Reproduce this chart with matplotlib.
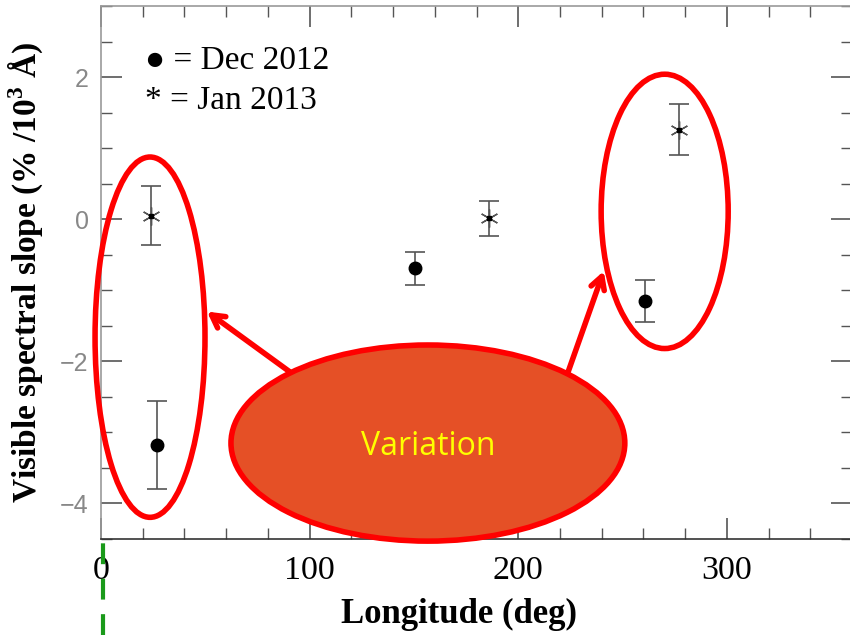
import matplotlib
matplotlib.use("Agg")
import matplotlib.pyplot as plt
from matplotlib.patches import Ellipse
from matplotlib.lines import Line2D
from matplotlib.ticker import MultipleLocator

# Dec 2012 observations (filled circles)
dec_lon = [26.7, 150.5, 261.0]
dec_slope = [-3.18, -0.69, -1.15]
dec_err = [0.62, 0.23, 0.29]

# Jan 2013 observations (asterisks)
jan_lon = [23.8, 186.0, 277.0]
jan_slope = [0.05, 0.01, 1.26]
jan_err = [0.42, 0.24, 0.36]

x_ticks = [0, 100, 200, 300]
y_ticks = [-4, -2, 0, 2]

serif = ["Liberation Serif", "DejaVu Serif"]
plt.rcParams["mathtext.fontset"] = "custom"
plt.rcParams["mathtext.rm"] = "Liberation Serif:bold"

fig = plt.figure(figsize=(8.5, 6.35), dpi=100)
W, H = 850, 635
ax = fig.add_axes([101 / W, (H - 539) / H, 751 / W, (539 - 6) / H])
ax.set_xlim(0, 360)
ax.set_ylim(-4.5, 3.0)

ax.errorbar(dec_lon, dec_slope, yerr=dec_err, fmt="o", color="black",
            ms=9, ecolor="#555555", elinewidth=1.2, capsize=7, capthick=1.2, zorder=3)
ax.errorbar(jan_lon, jan_slope, yerr=jan_err, fmt="none",
            ecolor="#555555", elinewidth=1.2, capsize=7, capthick=1.2, zorder=3)
ax.plot(jan_lon, jan_slope, linestyle="none", marker=(6, 2, 0), ms=13,
        mec="#555555", mew=1.0, zorder=4)
ax.plot(jan_lon, jan_slope, linestyle="none", marker="s", ms=2.5,
        color="black", zorder=5)

# ticks and spines
ax.set_xticks(x_ticks)
ax.set_yticks(y_ticks)
ax.xaxis.set_minor_locator(MultipleLocator(20))
ax.yaxis.set_minor_locator(MultipleLocator(0.5))
ax.tick_params(which="both", direction="in", top=True, right=True, color="#555555")
ax.tick_params(which="major", length=15, width=1.2)
ax.tick_params(which="minor", length=8, width=1.0)
ax.tick_params(axis="x", which="major", pad=12, labelsize=24.5, labelcolor="black")
ax.tick_params(axis="y", which="major", pad=9, labelsize=18, labelcolor="#888888")
ax.set_yticklabels(["\u22124", "\u22122", "0", "2"], family=["Liberation Sans"])
ax.set_xticklabels([str(t) for t in x_ticks], family=serif)
for side in ("left", "top", "right"):
    ax.spines[side].set_color("#999999")
ax.spines["bottom"].set_color("#333333")
for s in ax.spines.values():
    s.set_linewidth(1.2)

ax.set_xlabel("Longitude (deg)", family=serif, fontweight="bold", fontsize=25)
ax.xaxis.set_label_coords(0.477, -0.111)
ax.set_ylabel("Visible spectral slope (% /10$^3$ \u00c5)", family=serif,
              fontweight="bold", fontsize=24)
ax.yaxis.set_label_coords(-0.073, 0.5)

# legend text
ax.text(0.058, 0.897, "\u25cf = Dec 2012", transform=ax.transAxes, family=serif,
        fontsize=24, va="center", ha="left")
ax.text(0.058, 0.822, "* = Jan 2013", transform=ax.transAxes, family=serif,
        fontsize=24, va="center", ha="left")

# highlight ellipses
red = "#ff0000"
ax.add_patch(Ellipse((23.5, -1.66), 52.7, 5.07, fill=False, ec=red, lw=4, zorder=6, clip_on=False))
ax.add_patch(Ellipse((270.2, 0.11), 60.9, 3.86, fill=False, ec=red, lw=4, zorder=6, clip_on=False))

arrow_kw = dict(arrowstyle="->,head_length=0.9,head_width=0.5", color=red, lw=4,
                shrinkA=0, shrinkB=0)
ax.annotate("", xy=(50.8, -1.30), xytext=(90.6, -2.15), arrowprops=arrow_kw,
            annotation_clip=False, zorder=6)
ax.annotate("", xy=(241.0, -0.73), xytext=(223.3, -2.20), arrowprops=arrow_kw,
            annotation_clip=False, zorder=6)

ax.add_patch(Ellipse((156.7, -3.15), 188.8, 2.76, fc="#e55026", ec=red, lw=4,
                     zorder=7, clip_on=False))
ax.text(156.7, -3.2, "Variation", color="#ffff00", fontsize=23, family=["Open Sans"],
        ha="center", va="center", zorder=8)

# dashed marker below the origin
fig.add_artist(Line2D([103 / W, 103 / W], [0, (H - 543) / H], color="#1a9a1a", lw=3,
                      linestyle=(0, (5, 3.5))))

fig.savefig("out.png", dpi=100)
